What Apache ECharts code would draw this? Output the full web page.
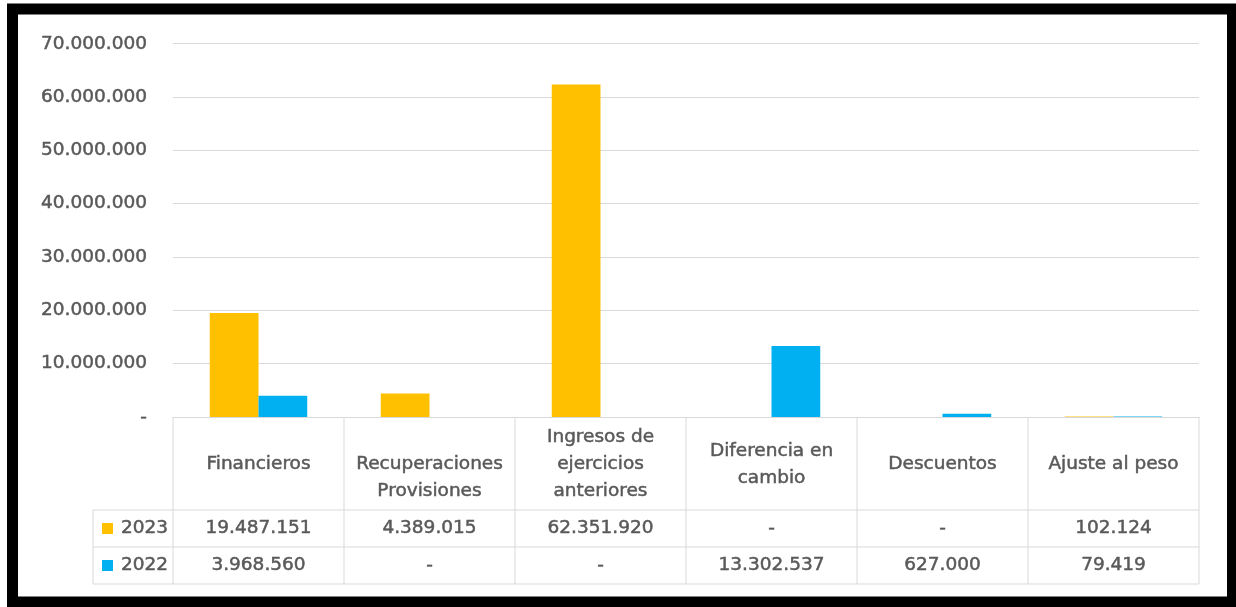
<!DOCTYPE html>
<html>
<head>
<meta charset="utf-8">
<script src="https://cdn.jsdelivr.net/npm/echarts@6/dist/echarts.min.js"></script>
<style>
  html, body { margin: 0; padding: 0; background: #ffffff; }
  #chart { width: 1236px; height: 607px; }
</style>
</head>
<body>
<div id="chart"></div>
<script>
// ---- data ----
const categories = ['Financieros', 'Recuperaciones Provisiones', 'Ingresos de ejercicios anteriores', 'Diferencia en cambio', 'Descuentos', 'Ajuste al peso'];
const headerLabels = ['Financieros', '\nRecuperaciones\nProvisiones', 'Ingresos de\nejercicios\nanteriores', 'Diferencia en\ncambio', 'Descuentos', 'Ajuste al peso'];
const seriesNames = ['2023', '2022'];
const values2023 = [19487151, 4389015, 62351920, null, null, 102124];
const values2022 = [3968560, null, null, 13302537, 627000, 79419];
const yTicks = [0, 10000000, 20000000, 30000000, 40000000, 50000000, 60000000, 70000000];

// ---- style ----
const COLORS = ['#FFC000', '#00B0F0'];
const TXT = '#595959';
const LINE = '#d9d9d9';
const FONT = 'DejaVu Sans';
const FS = 18.5;
const HEADER_H = 93, ROW_H = 37, LEFT_W = 80;

function fmt(v) {
  if (v === null || v === undefined || v === 0) return '-';
  return String(v).replace(/\B(?=(\d{3})+(?!\d))/g, '.');
}

function txt(text, x, y, align) {
  return {
    type: 'text', silent: true,
    style: {
      text: text, x: x, y: y,
      align: align || 'center', verticalAlign: 'middle',
      fontSize: FS, fontFamily: FONT, fill: TXT, lineHeight: 27,
      stroke: TXT, lineWidth: 0.5
    }
  };
}
function ln(x1, y1, x2, y2) {
  return { type: 'line', silent: true, shape: { x1: x1, y1: y1, x2: x2, y2: y2 }, style: { stroke: LINE, lineWidth: 1 } };
}

function renderItem(params, api) {
  const i = api.value(0);
  const c = api.coord([i, 0]);
  const w = api.size([1, 0])[0];
  const x0 = c[0] - w / 2, x1 = c[0] + w / 2;
  const yT = c[1], yH = yT + HEADER_H, y1 = yH + ROW_H, y2 = y1 + ROW_H;
  const ch = [];
  ch.push(ln(x1, yT, x1, y2));
  if (i === 0) ch.push(ln(x0, yT, x0, y2));
  ch.push(ln(x0, yH, x1, yH), ln(x0, y1, x1, y1), ln(x0, y2, x1, y2));
  ch.push(txt(headerLabels[i], c[0], (yT + yH) / 2 + 1));
  ch.push(txt(fmt(values2023[i]), c[0], (yH + y1) / 2));
  ch.push(txt(fmt(values2022[i]), c[0], (y1 + y2) / 2));
  if (i === 0) {
    const xl = x0 - LEFT_W, cx = x0 - LEFT_W / 2;
    ch.push(ln(xl, yH, x0, yH), ln(xl, y1, x0, y1), ln(xl, y2, x0, y2), ln(xl, yH, xl, y2));
    const rows = [(yH + y1) / 2, (y1 + y2) / 2];
    rows.forEach(function (ry, k) {
      ch.push({ type: 'rect', silent: true, shape: { x: cx - 31, y: ry - 5.5, width: 11, height: 11 }, style: { fill: COLORS[k] } });
      ch.push(txt(seriesNames[k], cx - 12, ry, 'left'));
    });
  }
  return { type: 'group', children: ch };
}

const chart = echarts.init(document.getElementById('chart'), null, { renderer: 'canvas' });
chart.setOption({
  animation: false,
  backgroundColor: '#ffffff',
  grid: { left: 173, right: 37, top: 43.7, bottom: 190, containLabel: false },
  xAxis: {
    type: 'category', data: categories,
    axisLine: { show: true, lineStyle: { color: LINE } },
    axisTick: { show: false }, axisLabel: { show: false }, splitLine: { show: false }
  },
  yAxis: {
    type: 'value', min: yTicks[0], max: yTicks[yTicks.length - 1], interval: yTicks[1] - yTicks[0],
    axisLine: { show: false }, axisTick: { show: false },
    splitLine: { show: true, lineStyle: { color: LINE, width: 1 } },
    axisLabel: { color: TXT, fontFamily: FONT, fontSize: FS, margin: 26, textBorderColor: TXT, textBorderWidth: 0.5,
      formatter: function (v) { return fmt(v); } }
  },
  series: [
    { name: seriesNames[0], type: 'bar', data: values2023, barGap: '0%', barCategoryGap: '43%', itemStyle: { color: COLORS[0] } },
    { name: seriesNames[1], type: 'bar', data: values2022, barGap: '0%', barCategoryGap: '43%', itemStyle: { color: COLORS[1] } },
    { type: 'custom', silent: true, clip: false, renderItem: renderItem, encode: { x: 0, y: 1 },
      data: categories.map(function (_, i) { return [i, 0]; }), z: 5 }
  ],
  graphic: [
    { type: 'rect', silent: true, z: 100, shape: { x: 12.5, y: 9, width: 1220, height: 593 },
      style: { fill: null, stroke: '#000000', lineWidth: 11 } }
  ]
});
</script>
</body>
</html>
